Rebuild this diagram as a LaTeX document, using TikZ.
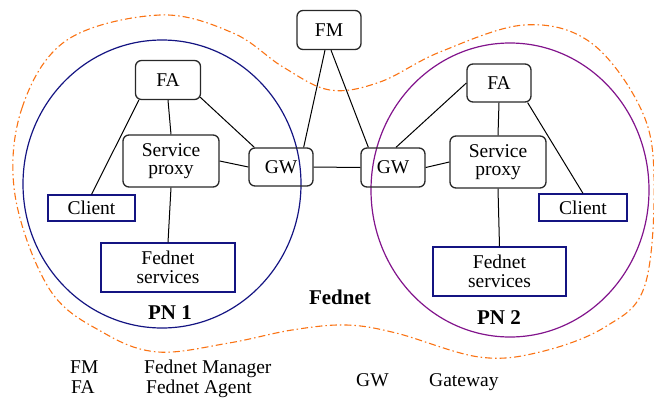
\documentclass[tikz,border=0pt]{standalone}
\usepackage{fontspec}
\setmainfont{Liberation Serif}
\usetikzlibrary{calc}
\definecolor{navyc}{RGB}{20,20,130}
\definecolor{purplec}{RGB}{130,20,140}
\definecolor{orangec}{RGB}{250,115,20}
\definecolor{boxgray}{RGB}{40,40,40}
\begin{document}
\begin{tikzpicture}[x=1pt,y=-1pt,
  rbox/.style={draw=boxgray,line width=1.3pt,rounded corners=6pt,inner sep=0pt,align=center,font=\fontsize{19.5}{18.5}\selectfont},
  bbox/.style={draw=navyc,line width=1.2pt,inner sep=0pt,align=center,font=\fontsize{19.5}{18.5}\selectfont},
  link/.style={line width=1pt,black},
  lbl/.style={font=\fontsize{21}{21}\selectfont\bfseries},
  leg/.style={anchor=base west,inner sep=0pt,font=\fontsize{19.5}{19.5}\selectfont}]
\useasboundingbox (0,0) rectangle (654,397);
% Fednet boundary
\draw[orangec,line width=1.1pt,dash pattern=on 7pt off 3pt on 1.5pt off 3pt]
  plot[smooth cycle,tension=0.6] coordinates {
  (15,195) (22,108) (67,40) (160,15) (233,33) (283,67) (330,90) (380,82) (440,52)
  (524,25) (590,42) (640,107) (654,175) (645,285) (605,327) (540,352) (479,357)
  (396,333) (346,325) (292,330) (229,343) (158,352) (104,333) (50,290)};
% PN circles
\draw[navyc,line width=1.2pt] (162,184) ellipse [x radius=139pt,y radius=144pt];
\draw[purplec,line width=1.2pt] (510,190) ellipse [x radius=139pt,y radius=147pt];
% nodes
\node[rbox,minimum width=64pt,minimum height=39pt] (fm) at (329,30) {FM};
\node[rbox,minimum width=65pt,minimum height=39pt] (fa1) at (168,80) {FA};
\node[rbox,minimum width=96pt,minimum height=52pt] (sp1) at (171,161) {Service\\proxy};
\node[rbox,minimum width=64pt,minimum height=38pt] (gw1) at (281,167) {GW};
\node[bbox,minimum width=87pt,minimum height=26pt] (cl1) at (91.5,208) {Client};
\node[bbox,minimum width=134pt,minimum height=49pt] (fs1) at (168,267.5) {Fednet\\services};
\node[rbox,minimum width=64pt,minimum height=39pt] (gw2) at (393,167.5) {GW};
\node[rbox,minimum width=64pt,minimum height=38pt] (fa2) at (499,83) {FA};
\node[rbox,minimum width=96pt,minimum height=52pt] (sp2) at (498,162) {Service\\proxy};
\node[bbox,minimum width=88pt,minimum height=27pt] (cl2) at (583,207.5) {Client};
\node[bbox,minimum width=133pt,minimum height=49pt] (fs2) at (499.5,271.5) {Fednet\\services};
% labels
\node[lbl] (pn1) at (170,313) {PN 1};
\node[lbl] (pn2) at (499,318) {PN 2};
\node[lbl] (fed) at (340,297) {Fednet};
% connectors
\draw[link] ($(fa1.south west)+(4,0)$) -- (cl1.north);
\draw[link] (fa1.south) -- (sp1.north);
\draw[link] ($(fa1.south east)+(-1,-3)$) -- ($(gw1.north west)+(6,0)$);
\draw[link] (sp1.east) -- (gw1.west);
\draw[link] (sp1.south) -- (fs1.north);
\draw[link] ($(gw1.north east)+(-10,0)$) -- ($(fm.south)+(-4,0)$);
\draw[link] ($(gw2.north west)+(8,0)$) -- ($(fm.south)+(2,0)$);
\draw[link] (gw1.east) -- (gw2.west);
\draw[link] ($(gw2.north)+(3,0)$) -- (fa2.west);
\draw[link] (fa2.south) -- (sp2.north);
\draw[link] ($(fa2.south east)+(-4,0)$) -- (cl2.north);
\draw[link] (gw2.east) -- (sp2.west);
\draw[link] (sp2.south) -- (fs2.north);
% legend
\node[leg] (l1a) at (70,373) {FM};
\node[leg] (l1b) at (144,373) {Fednet Manager};
\node[leg] (l2a) at (71,393) {FA};
\node[leg] (l2b) at (146,393) {Fednet Agent};
\node[leg] (l3a) at (356,386) {GW};
\node[leg] (l3b) at (429,386) {Gateway};
\end{tikzpicture}
\end{document}
